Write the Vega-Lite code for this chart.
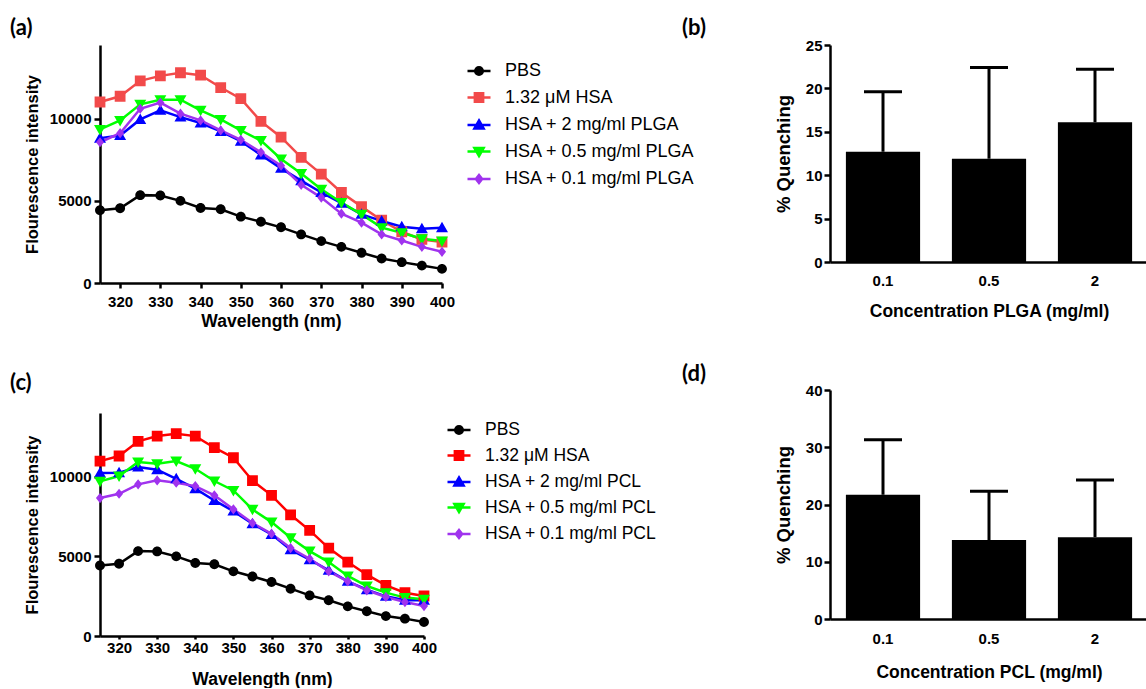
{
"$schema": "https://vega.github.io/schema/vega-lite/v6.json",
"background": "white",
"padding": {"left": 10, "top": 17, "right": 0, "bottom": 0},
"config": {
  "view": {"stroke": null},
  "font": "Liberation Sans",
  "axis": {"grid": false, "domainColor": "black", "domainWidth": 2.5, "tickColor": "black", "tickWidth": 2.5, "tickSize": 6,
           "labelFont": "Liberation Sans", "labelFontWeight": "bold", "labelFontSize": 15, "labelColor": "black", "labelPadding": 3,
           "labelFlush": false, "labelOverlap": false,
           "titleFont": "Liberation Sans", "titleFontWeight": "bold", "titleColor": "black"},
  "legend": {"labelFont": "Liberation Sans", "labelColor": "black", "labelLimit": 400, "symbolStrokeWidth": 2.5},
  "title": {"font": "Lato", "fontSize": 22, "fontWeight": "bold", "anchor": "start", "frame": "group", "color": "black"}
},
"datasets": {
 "a": [
  {"wl":315,"s":"PBS","v":4430},{"wl":320,"s":"PBS","v":4550},{"wl":325,"s":"PBS","v":5350},{"wl":330,"s":"PBS","v":5330},{"wl":335,"s":"PBS","v":5000},{"wl":340,"s":"PBS","v":4570},{"wl":345,"s":"PBS","v":4490},{"wl":350,"s":"PBS","v":4040},{"wl":355,"s":"PBS","v":3730},{"wl":360,"s":"PBS","v":3390},{"wl":365,"s":"PBS","v":2960},{"wl":370,"s":"PBS","v":2550},{"wl":375,"s":"PBS","v":2200},{"wl":380,"s":"PBS","v":1840},{"wl":385,"s":"PBS","v":1490},{"wl":390,"s":"PBS","v":1270},{"wl":395,"s":"PBS","v":1060},{"wl":400,"s":"PBS","v":860},
  {"wl":315,"s":"1.32 μM HSA","v":11020},{"wl":320,"s":"1.32 μM HSA","v":11370},{"wl":325,"s":"1.32 μM HSA","v":12310},{"wl":330,"s":"1.32 μM HSA","v":12610},{"wl":335,"s":"1.32 μM HSA","v":12800},{"wl":340,"s":"1.32 μM HSA","v":12650},{"wl":345,"s":"1.32 μM HSA","v":11900},{"wl":350,"s":"1.32 μM HSA","v":11220},{"wl":355,"s":"1.32 μM HSA","v":9840},{"wl":360,"s":"1.32 μM HSA","v":8880},{"wl":365,"s":"1.32 μM HSA","v":7650},{"wl":370,"s":"1.32 μM HSA","v":6630},{"wl":375,"s":"1.32 μM HSA","v":5510},{"wl":380,"s":"1.32 μM HSA","v":4650},{"wl":385,"s":"1.32 μM HSA","v":3820},{"wl":390,"s":"1.32 μM HSA","v":3120},{"wl":395,"s":"1.32 μM HSA","v":2650},{"wl":400,"s":"1.32 μM HSA","v":2490},
  {"wl":315,"s":"HSA + 2 mg/ml PLGA","v":8820},{"wl":320,"s":"HSA + 2 mg/ml PLGA","v":8980},{"wl":325,"s":"HSA + 2 mg/ml PLGA","v":9960},{"wl":330,"s":"HSA + 2 mg/ml PLGA","v":10510},{"wl":335,"s":"HSA + 2 mg/ml PLGA","v":10100},{"wl":340,"s":"HSA + 2 mg/ml PLGA","v":9740},{"wl":345,"s":"HSA + 2 mg/ml PLGA","v":9230},{"wl":350,"s":"HSA + 2 mg/ml PLGA","v":8630},{"wl":355,"s":"HSA + 2 mg/ml PLGA","v":7800},{"wl":360,"s":"HSA + 2 mg/ml PLGA","v":6980},{"wl":365,"s":"HSA + 2 mg/ml PLGA","v":6230},{"wl":370,"s":"HSA + 2 mg/ml PLGA","v":5510},{"wl":375,"s":"HSA + 2 mg/ml PLGA","v":4860},{"wl":380,"s":"HSA + 2 mg/ml PLGA","v":4180},{"wl":385,"s":"HSA + 2 mg/ml PLGA","v":3780},{"wl":390,"s":"HSA + 2 mg/ml PLGA","v":3430},{"wl":395,"s":"HSA + 2 mg/ml PLGA","v":3310},{"wl":400,"s":"HSA + 2 mg/ml PLGA","v":3370},
  {"wl":315,"s":"HSA + 0.5 mg/ml PLGA","v":9350},{"wl":320,"s":"HSA + 0.5 mg/ml PLGA","v":9900},{"wl":325,"s":"HSA + 0.5 mg/ml PLGA","v":10880},{"wl":330,"s":"HSA + 0.5 mg/ml PLGA","v":11160},{"wl":335,"s":"HSA + 0.5 mg/ml PLGA","v":11160},{"wl":340,"s":"HSA + 0.5 mg/ml PLGA","v":10510},{"wl":345,"s":"HSA + 0.5 mg/ml PLGA","v":9960},{"wl":350,"s":"HSA + 0.5 mg/ml PLGA","v":9290},{"wl":355,"s":"HSA + 0.5 mg/ml PLGA","v":8670},{"wl":360,"s":"HSA + 0.5 mg/ml PLGA","v":7550},{"wl":365,"s":"HSA + 0.5 mg/ml PLGA","v":6670},{"wl":370,"s":"HSA + 0.5 mg/ml PLGA","v":5710},{"wl":375,"s":"HSA + 0.5 mg/ml PLGA","v":4900},{"wl":380,"s":"HSA + 0.5 mg/ml PLGA","v":4180},{"wl":385,"s":"HSA + 0.5 mg/ml PLGA","v":3370},{"wl":390,"s":"HSA + 0.5 mg/ml PLGA","v":3060},{"wl":395,"s":"HSA + 0.5 mg/ml PLGA","v":2690},{"wl":400,"s":"HSA + 0.5 mg/ml PLGA","v":2550},
  {"wl":315,"s":"HSA + 0.1 mg/ml PLGA","v":8570},{"wl":320,"s":"HSA + 0.1 mg/ml PLGA","v":9120},{"wl":325,"s":"HSA + 0.1 mg/ml PLGA","v":10610},{"wl":330,"s":"HSA + 0.1 mg/ml PLGA","v":10980},{"wl":335,"s":"HSA + 0.1 mg/ml PLGA","v":10310},{"wl":340,"s":"HSA + 0.1 mg/ml PLGA","v":9900},{"wl":345,"s":"HSA + 0.1 mg/ml PLGA","v":9290},{"wl":350,"s":"HSA + 0.1 mg/ml PLGA","v":8720},{"wl":355,"s":"HSA + 0.1 mg/ml PLGA","v":7960},{"wl":360,"s":"HSA + 0.1 mg/ml PLGA","v":7140},{"wl":365,"s":"HSA + 0.1 mg/ml PLGA","v":5980},{"wl":370,"s":"HSA + 0.1 mg/ml PLGA","v":5200},{"wl":375,"s":"HSA + 0.1 mg/ml PLGA","v":4220},{"wl":380,"s":"HSA + 0.1 mg/ml PLGA","v":3670},{"wl":385,"s":"HSA + 0.1 mg/ml PLGA","v":2960},{"wl":390,"s":"HSA + 0.1 mg/ml PLGA","v":2590},{"wl":395,"s":"HSA + 0.1 mg/ml PLGA","v":2200},{"wl":400,"s":"HSA + 0.1 mg/ml PLGA","v":1900}
 ],
 "c": [
  {"wl":315,"s":"PBS","v":4430},{"wl":320,"s":"PBS","v":4540},{"wl":325,"s":"PBS","v":5330},{"wl":330,"s":"PBS","v":5310},{"wl":335,"s":"PBS","v":5000},{"wl":340,"s":"PBS","v":4580},{"wl":345,"s":"PBS","v":4500},{"wl":350,"s":"PBS","v":4060},{"wl":355,"s":"PBS","v":3740},{"wl":360,"s":"PBS","v":3390},{"wl":365,"s":"PBS","v":2970},{"wl":370,"s":"PBS","v":2550},{"wl":375,"s":"PBS","v":2240},{"wl":380,"s":"PBS","v":1860},{"wl":385,"s":"PBS","v":1550},{"wl":390,"s":"PBS","v":1250},{"wl":395,"s":"PBS","v":1090},{"wl":400,"s":"PBS","v":880},
  {"wl":315,"s":"1.32 μM HSA","v":10980},{"wl":320,"s":"1.32 μM HSA","v":11300},{"wl":325,"s":"1.32 μM HSA","v":12220},{"wl":330,"s":"1.32 μM HSA","v":12550},{"wl":335,"s":"1.32 μM HSA","v":12700},{"wl":340,"s":"1.32 μM HSA","v":12550},{"wl":345,"s":"1.32 μM HSA","v":11820},{"wl":350,"s":"1.32 μM HSA","v":11190},{"wl":355,"s":"1.32 μM HSA","v":9750},{"wl":360,"s":"1.32 μM HSA","v":8830},{"wl":365,"s":"1.32 μM HSA","v":7610},{"wl":370,"s":"1.32 μM HSA","v":6630},{"wl":375,"s":"1.32 μM HSA","v":5520},{"wl":380,"s":"1.32 μM HSA","v":4640},{"wl":385,"s":"1.32 μM HSA","v":3850},{"wl":390,"s":"1.32 μM HSA","v":3180},{"wl":395,"s":"1.32 μM HSA","v":2720},{"wl":400,"s":"1.32 μM HSA","v":2510},
  {"wl":315,"s":"HSA + 2 mg/ml PCL","v":10230},{"wl":320,"s":"HSA + 2 mg/ml PCL","v":10250},{"wl":325,"s":"HSA + 2 mg/ml PCL","v":10610},{"wl":330,"s":"HSA + 2 mg/ml PCL","v":10440},{"wl":335,"s":"HSA + 2 mg/ml PCL","v":9870},{"wl":340,"s":"HSA + 2 mg/ml PCL","v":9250},{"wl":345,"s":"HSA + 2 mg/ml PCL","v":8510},{"wl":350,"s":"HSA + 2 mg/ml PCL","v":7840},{"wl":355,"s":"HSA + 2 mg/ml PCL","v":7050},{"wl":360,"s":"HSA + 2 mg/ml PCL","v":6380},{"wl":365,"s":"HSA + 2 mg/ml PCL","v":5420},{"wl":370,"s":"HSA + 2 mg/ml PCL","v":4790},{"wl":375,"s":"HSA + 2 mg/ml PCL","v":4120},{"wl":380,"s":"HSA + 2 mg/ml PCL","v":3430},{"wl":385,"s":"HSA + 2 mg/ml PCL","v":2910},{"wl":390,"s":"HSA + 2 mg/ml PCL","v":2490},{"wl":395,"s":"HSA + 2 mg/ml PCL","v":2240},{"wl":400,"s":"HSA + 2 mg/ml PCL","v":2240},
  {"wl":315,"s":"HSA + 0.5 mg/ml PCL","v":9710},{"wl":320,"s":"HSA + 0.5 mg/ml PCL","v":10040},{"wl":325,"s":"HSA + 0.5 mg/ml PCL","v":10920},{"wl":330,"s":"HSA + 0.5 mg/ml PCL","v":10820},{"wl":335,"s":"HSA + 0.5 mg/ml PCL","v":10980},{"wl":340,"s":"HSA + 0.5 mg/ml PCL","v":10500},{"wl":345,"s":"HSA + 0.5 mg/ml PCL","v":9730},{"wl":350,"s":"HSA + 0.5 mg/ml PCL","v":9140},{"wl":355,"s":"HSA + 0.5 mg/ml PCL","v":7950},{"wl":360,"s":"HSA + 0.5 mg/ml PCL","v":7150},{"wl":365,"s":"HSA + 0.5 mg/ml PCL","v":6170},{"wl":370,"s":"HSA + 0.5 mg/ml PCL","v":5330},{"wl":375,"s":"HSA + 0.5 mg/ml PCL","v":4640},{"wl":380,"s":"HSA + 0.5 mg/ml PCL","v":3770},{"wl":385,"s":"HSA + 0.5 mg/ml PCL","v":3140},{"wl":390,"s":"HSA + 0.5 mg/ml PCL","v":2720},{"wl":395,"s":"HSA + 0.5 mg/ml PCL","v":2410},{"wl":400,"s":"HSA + 0.5 mg/ml PCL","v":2300},
  {"wl":315,"s":"HSA + 0.1 mg/ml PCL","v":8660},{"wl":320,"s":"HSA + 0.1 mg/ml PCL","v":8930},{"wl":325,"s":"HSA + 0.1 mg/ml PCL","v":9520},{"wl":330,"s":"HSA + 0.1 mg/ml PCL","v":9770},{"wl":335,"s":"HSA + 0.1 mg/ml PCL","v":9620},{"wl":340,"s":"HSA + 0.1 mg/ml PCL","v":9410},{"wl":345,"s":"HSA + 0.1 mg/ml PCL","v":8830},{"wl":350,"s":"HSA + 0.1 mg/ml PCL","v":7950},{"wl":355,"s":"HSA + 0.1 mg/ml PCL","v":7090},{"wl":360,"s":"HSA + 0.1 mg/ml PCL","v":6420},{"wl":365,"s":"HSA + 0.1 mg/ml PCL","v":5520},{"wl":370,"s":"HSA + 0.1 mg/ml PCL","v":4850},{"wl":375,"s":"HSA + 0.1 mg/ml PCL","v":4060},{"wl":380,"s":"HSA + 0.1 mg/ml PCL","v":3430},{"wl":385,"s":"HSA + 0.1 mg/ml PCL","v":2870},{"wl":390,"s":"HSA + 0.1 mg/ml PCL","v":2450},{"wl":395,"s":"HSA + 0.1 mg/ml PCL","v":2130},{"wl":400,"s":"HSA + 0.1 mg/ml PCL","v":1880}
 ],
 "b": [{"c":"0.1","q":12.7,"u":19.6},{"c":"0.5","q":11.9,"u":22.4},{"c":"2","q":16.1,"u":22.2}],
 "d": [{"c":"0.1","q":21.7,"u":31.3},{"c":"0.5","q":13.8,"u":22.3},{"c":"2","q":14.3,"u":24.3}]
},
"align": "none",
"spacing": -13,
"resolve": {"scale": {"color": "independent", "shape": "independent", "stroke": "independent"}},
"hconcat": [
 {"vconcat": [
  {
   "width": 342, "height": 238,
   "title": {"text": "(a)", "dx": -90, "offset": 5},
   "data": {"name": "a"},
   "encoding": {
     "x": {"field": "wl", "type": "quantitative", "scale": {"domain": [315, 400], "nice": false, "zero": false},
           "axis": {"values": [320,330,340,350,360,370,380,390,400], "title": "Wavelength (nm)", "titleFontSize": 17.5, "tickSize": 5, "labelPadding": 6, "titlePadding": 3}},
     "y": {"field": "v", "type": "quantitative", "scale": {"domain": [0, 14490], "nice": false},
           "axis": {"values": [0, 5000, 10000], "format": "d", "title": "Flourescence intensity", "titleFontSize": 16.5, "titlePadding": 9}}
   },
   "layer": [
    {"mark": {"type": "line", "strokeWidth": 2.5},
     "encoding": {"stroke": {"field": "s", "type": "nominal",
       "scale": {"domain": ["PBS", "1.32 μM HSA", "HSA + 2 mg/ml PLGA", "HSA + 0.5 mg/ml PLGA", "HSA + 0.1 mg/ml PLGA"], "range": ["#000000", "#f24a4a", "#0000ff", "#00ff00", "#a033ee"]},
       "legend": {"orient": "none", "legendX": 366, "legendY": 13, "title": null, "labelFontSize": 18, "rowPadding": 4.5, "symbolSize": 529, "symbolStrokeWidth": 2.5, "labelOffset": 13, "padding": 0}}}},
    {"mark": {"type": "point", "filled": true, "opacity": 1, "size": 900},
     "encoding": {
      "color": {"field": "s", "type": "nominal",
       "scale": {"domain": ["PBS", "1.32 μM HSA", "HSA + 2 mg/ml PLGA", "HSA + 0.5 mg/ml PLGA", "HSA + 0.1 mg/ml PLGA"], "range": ["#000000", "#f24a4a", "#0000ff", "#00ff00", "#a033ee"]},
       "legend": {"orient": "none", "legendX": 366, "legendY": 13, "title": null, "labelFontSize": 18, "rowPadding": 4.5, "symbolSize": 529, "symbolStrokeWidth": 2.5, "labelOffset": 13, "padding": 0}},
      "shape": {"field": "s", "type": "nominal",
       "scale": {"domain": ["PBS", "1.32 μM HSA", "HSA + 2 mg/ml PLGA", "HSA + 0.5 mg/ml PLGA", "HSA + 0.1 mg/ml PLGA"],
                 "range": ["M0.33,0A0.33,0.33,0,1,1,-0.33,0A0.33,0.33,0,1,1,0.33,0ZM-1,0H1", "M-0.36,-0.36H0.36V0.36H-0.36ZM-1,0H1", "M0,-0.4L0.4,0.3L-0.4,0.3ZM-1,0H1", "M0,0.4L0.4,-0.3L-0.4,-0.3ZM-1,0H1", "M0,-0.34L0.27,0L0,0.34L-0.27,0ZM-1,0H1"]},
       "legend": {"orient": "none", "legendX": 366, "legendY": 13, "title": null, "labelFontSize": 18, "rowPadding": 4.5, "symbolSize": 529, "symbolStrokeWidth": 2.5, "labelOffset": 13, "padding": 0}}
     }}
   ]
  },
  {
   "width": 324, "height": 223,
   "title": {"text": "(c)", "dx": -90, "offset": 18},
   "data": {"name": "c"},
   "encoding": {
     "x": {"field": "wl", "type": "quantitative", "scale": {"domain": [315, 400], "nice": false, "zero": false},
           "axis": {"values": [320,330,340,350,360,370,380,390,400], "title": "Wavelength (nm)", "titleFontSize": 17.5, "tickSize": 3, "labelPadding": 1, "titlePadding": 15}},
     "y": {"field": "v", "type": "quantitative", "scale": {"domain": [0, 14000], "nice": false},
           "axis": {"values": [0, 5000, 10000], "format": "d", "title": "Flourescence intensity", "titleFontSize": 16.5, "titlePadding": 9}}
   },
   "layer": [
    {"mark": {"type": "line", "strokeWidth": 2.5},
     "encoding": {"stroke": {"field": "s", "type": "nominal",
       "scale": {"domain": ["PBS", "1.32 μM HSA", "HSA + 2 mg/ml PCL", "HSA + 0.5 mg/ml PCL", "HSA + 0.1 mg/ml PCL"], "range": ["#000000", "#ff0000", "#0000ff", "#00ff00", "#a033ee"]},
       "legend": {"orient": "none", "legendX": 346, "legendY": 4, "title": null, "labelFontSize": 17.5, "rowPadding": 3.5, "symbolSize": 529, "symbolStrokeWidth": 2.5, "labelOffset": 13, "padding": 0}}}},
    {"mark": {"type": "point", "filled": true, "opacity": 1, "size": 900},
     "encoding": {
      "color": {"field": "s", "type": "nominal",
       "scale": {"domain": ["PBS", "1.32 μM HSA", "HSA + 2 mg/ml PCL", "HSA + 0.5 mg/ml PCL", "HSA + 0.1 mg/ml PCL"], "range": ["#000000", "#ff0000", "#0000ff", "#00ff00", "#a033ee"]},
       "legend": {"orient": "none", "legendX": 346, "legendY": 4, "title": null, "labelFontSize": 17.5, "rowPadding": 3.5, "symbolSize": 529, "symbolStrokeWidth": 2.5, "labelOffset": 13, "padding": 0}},
      "shape": {"field": "s", "type": "nominal",
       "scale": {"domain": ["PBS", "1.32 μM HSA", "HSA + 2 mg/ml PCL", "HSA + 0.5 mg/ml PCL", "HSA + 0.1 mg/ml PCL"],
                 "range": ["M0.33,0A0.33,0.33,0,1,1,-0.33,0A0.33,0.33,0,1,1,0.33,0ZM-1,0H1", "M-0.36,-0.36H0.36V0.36H-0.36ZM-1,0H1", "M0,-0.4L0.4,0.3L-0.4,0.3ZM-1,0H1", "M0,0.4L0.4,-0.3L-0.4,-0.3ZM-1,0H1", "M0,-0.34L0.27,0L0,0.34L-0.27,0ZM-1,0H1"]},
       "legend": {"orient": "none", "legendX": 346, "legendY": 4, "title": null, "labelFontSize": 17.5, "rowPadding": 3.5, "symbolSize": 529, "symbolStrokeWidth": 2.5, "labelOffset": 13, "padding": 0}}
     }}
   ]
  }
 ], "align": "none", "spacing": 42, "resolve": {"scale": {"color": "independent", "shape": "independent", "stroke": "independent"}}},
 {"vconcat": [
  {
   "width": 318, "height": 217,
   "title": {"text": "(b)", "dx": -148, "offset": -2},
   "data": {"name": "b"},
   "encoding": {
     "x": {"field": "c", "type": "nominal", "sort": null, "scale": {"paddingInner": 0.3, "paddingOuter": 0.15},
           "axis": {"title": "Concentration PLGA (mg/ml)", "labelAngle": 0, "ticks": false, "labelPadding": 11, "titleFontSize": 17.5, "titlePadding": 14}}
   },
   "layer": [
    {"mark": {"type": "bar", "color": "black"},
     "encoding": {"y": {"field": "q", "type": "quantitative", "scale": {"domain": [0, 25], "nice": false},
       "axis": {"values": [0,5,10,15,20,25], "title": "% Quenching", "titleFontSize": 18.5, "titlePadding": 12, "labelPadding": 2}}}},
    {"mark": {"type": "rule", "color": "black", "strokeWidth": 3},
     "encoding": {"y": {"field": "q", "type": "quantitative", "title": "% Quenching"}, "y2": {"field": "u"}}},
    {"mark": {"type": "tick", "color": "black", "thickness": 3, "size": 38, "opacity": 1},
     "encoding": {"y": {"field": "u", "type": "quantitative", "title": "% Quenching"}}}
   ]
  },
  {
   "width": 318, "height": 229,
   "title": {"text": "(d)", "dx": -148, "offset": -3},
   "data": {"name": "d"},
   "encoding": {
     "x": {"field": "c", "type": "nominal", "sort": null, "scale": {"paddingInner": 0.3, "paddingOuter": 0.15},
           "axis": {"title": "Concentration PCL (mg/ml)", "labelAngle": 0, "ticks": false, "labelPadding": 12, "titleFontSize": 17.5, "titlePadding": 17}}
   },
   "layer": [
    {"mark": {"type": "bar", "color": "black"},
     "encoding": {"y": {"field": "q", "type": "quantitative", "scale": {"domain": [0, 40], "nice": false},
       "axis": {"values": [0,10,20,30,40], "title": "% Quenching", "titleFontSize": 18.5, "titlePadding": 12, "labelPadding": 2}}}},
    {"mark": {"type": "rule", "color": "black", "strokeWidth": 3},
     "encoding": {"y": {"field": "q", "type": "quantitative", "title": "% Quenching"}, "y2": {"field": "u"}}},
    {"mark": {"type": "tick", "color": "black", "thickness": 3, "size": 38, "opacity": 1},
     "encoding": {"y": {"field": "u", "type": "quantitative", "title": "% Quenching"}}}
   ]
  }
 ], "align": "none", "spacing": 43}
]
}
